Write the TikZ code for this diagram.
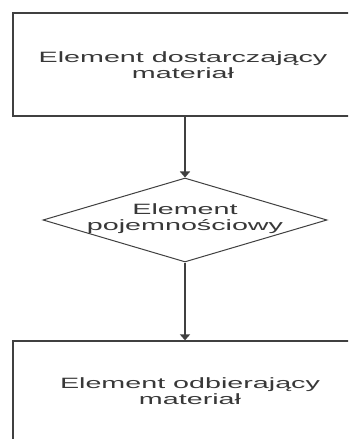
\documentclass[tikz,border=0pt]{standalone}
\usepackage{fontspec}
\setmainfont{Liberation Sans}
\usetikzlibrary{shapes.geometric,arrows.meta}
\definecolor{txtgray}{HTML}{383838}
\definecolor{linegray}{HTML}{404040}
\newcommand{\widetxt}[1]{\scalebox{1.92}[1]{\fontsize{15}{16.5}\selectfont\begin{tabular}{@{}c@{}}#1\end{tabular}}}
\tikzset{
  boxnode/.style={draw=linegray, line width=1.3bp, rectangle, fill=white, inner sep=0},
  decnode/.style={draw=linegray, line width=1bp, diamond, inner sep=0, minimum width=284bp, minimum height=84bp},
  label text/.style={text=txtgray, inner sep=0},
  flow/.style={draw=linegray, line width=2bp, -{Triangle[length=6bp,width=10bp]}}
}
\begin{document}
\begin{tikzpicture}[x=1bp,y=-1bp]
\useasboundingbox (0,0) rectangle (348,439);
\clip (0,0) rectangle (348,439);
\fill[white] (0,0) rectangle (348,439);
\node[boxnode, minimum width=350bp, minimum height=103bp] (top) at (188,64.5) {};
\node[label text] (toptxt) at (183,67) {\widetxt{Element dostarczający\\materiał}};
\node[decnode] (d) at (185,220) {};
\node[label text] (dtxt) at (185,219) {\widetxt{Element\\pojemnościowy}};
\node[boxnode, minimum width=350bp, minimum height=120bp] (bot) at (188,401) {};
\node[label text] (bottxt) at (190,393) {\widetxt{Element odbierający\\materiał}};
\draw[flow] (d.north |- top.south) -- (d.north);
\draw[flow] (d.south) -- (d.south |- bot.north);
\end{tikzpicture}
\end{document}
